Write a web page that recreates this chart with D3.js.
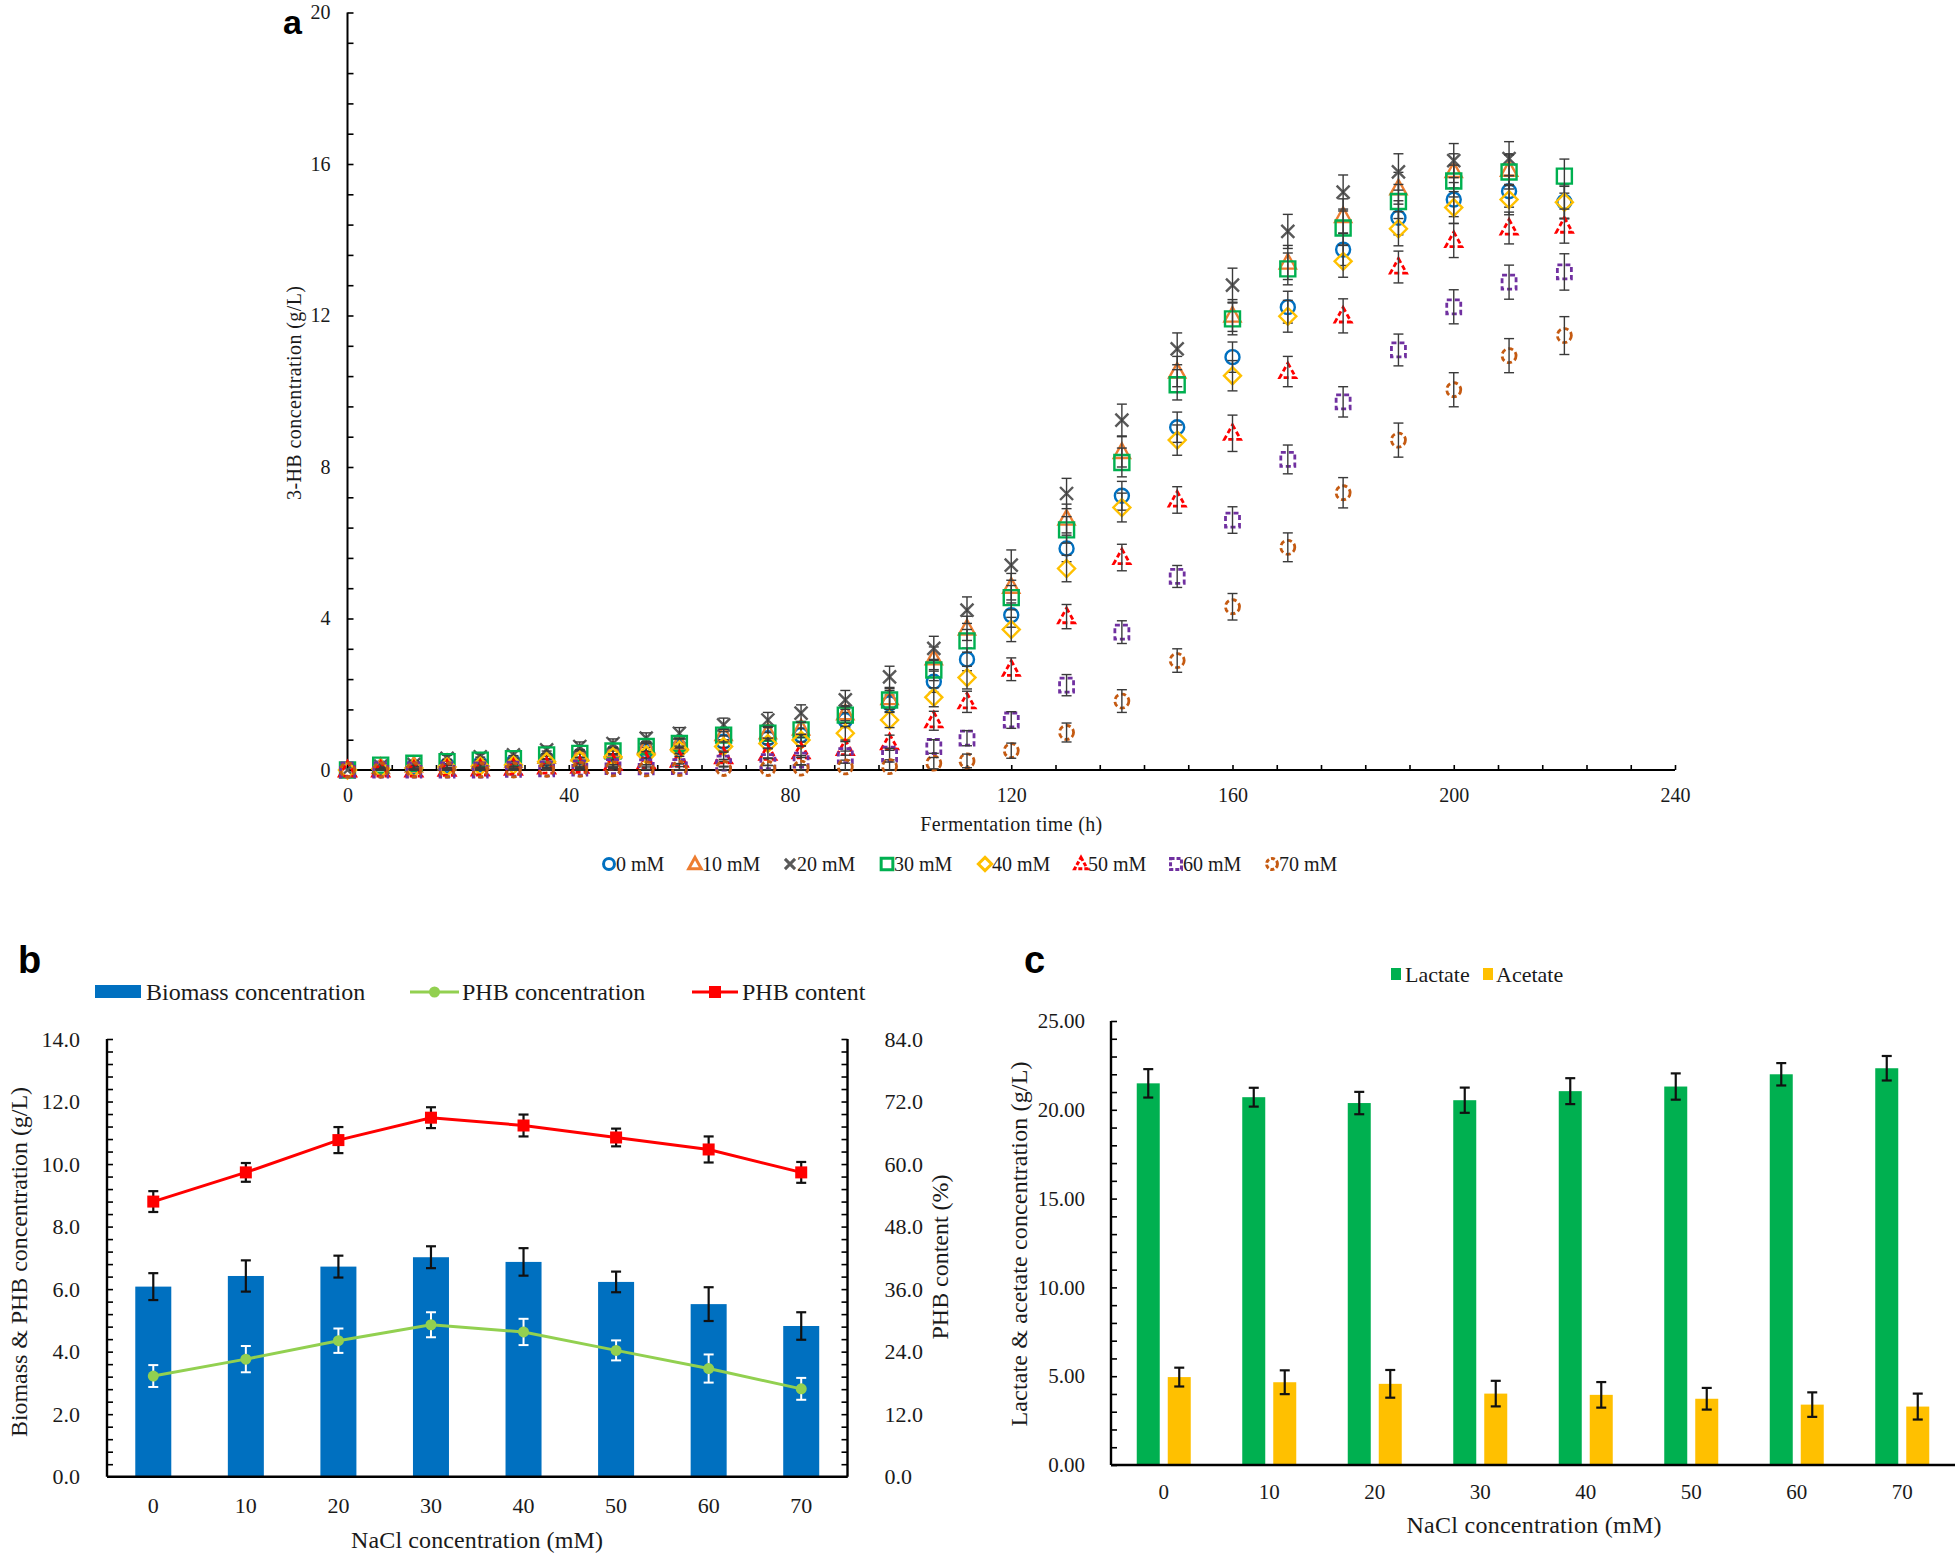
<!DOCTYPE html>
<html>
<head>
<meta charset="utf-8">
<title>3-HB production under NaCl</title>
<script src="https://cdn.jsdelivr.net/npm/d3@7"></script>
<style>
  body { margin: 0; background: #fff; }
  text { font-family: "Liberation Serif", "Times New Roman", serif; fill: #1a1a1a; }
  .tag { font-family: "Liberation Sans", Arial, sans-serif; font-weight: bold; fill: #000; }
</style>
</head>
<body>
<svg id="fig" width="1960" height="1558"></svg>
<script>
// ---- panel a : 3-HB concentration vs fermentation time
const hours = [0, 6, 12, 18, 24, 30, 36, 42, 48, 54, 60, 68, 76, 82, 90, 98, 106, 112, 120, 130, 140, 150, 160, 170, 180, 190, 200, 210, 220];
const saltLabels = ["0 mM", "10 mM", "20 mM", "30 mM", "40 mM", "50 mM", "60 mM", "70 mM"];

const hb0  = [0, 0.05, 0.08, 0.12, 0.15, 0.2, 0.28, 0.35, 0.4, 0.5, 0.6, 0.75, 0.84, 0.92, 1.32, 1.76, 2.33, 2.92, 4.09, 5.85, 7.24, 9.05, 10.9, 12.22, 13.74, 14.58, 15.06, 15.28, 15.0];
const hb10 = [0, 0.08, 0.12, 0.18, 0.2, 0.24, 0.35, 0.42, 0.5, 0.62, 0.72, 0.95, 1.0, 1.1, 1.5, 1.9, 2.95, 3.74, 4.84, 6.64, 8.4, 10.52, 12.0, 13.4, 14.63, 15.36, 15.82, 15.85];
const hb20 = [0, 0.1, 0.15, 0.31, 0.35, 0.4, 0.53, 0.62, 0.7, 0.84, 0.97, 1.19, 1.32, 1.5, 1.85, 2.46, 3.21, 4.22, 5.41, 7.3, 9.24, 11.12, 12.8, 14.22, 15.26, 15.79, 16.09, 16.14];
const hb30 = [0, 0.13, 0.18, 0.22, 0.26, 0.3, 0.4, 0.44, 0.5, 0.62, 0.7, 0.92, 0.97, 1.06, 1.45, 1.85, 2.64, 3.41, 4.55, 6.34, 8.12, 10.17, 11.91, 13.23, 14.31, 15.01, 15.55, 15.79, 15.68];
const hb40 = [0, 0.03, 0.05, 0.08, 0.1, 0.13, 0.22, 0.26, 0.35, 0.4, 0.53, 0.62, 0.7, 0.79, 0.97, 1.32, 1.92, 2.44, 3.71, 5.32, 6.93, 8.71, 10.41, 11.98, 13.43, 14.29, 14.85, 15.06, 14.99];
const hb50 = [0, 0, 0, 0.02, 0.03, 0.05, 0.08, 0.1, 0.18, 0.22, 0.26, 0.35, 0.44, 0.48, 0.57, 0.72, 1.3, 1.8, 2.66, 4.05, 5.61, 7.13, 8.89, 10.52, 11.99, 13.28, 13.98, 14.31, 14.36];
const hb60 = [0, 0, 0, 0, 0, 0.02, 0.03, 0.05, 0.09, 0.08, 0.09, 0.18, 0.22, 0.26, 0.38, 0.42, 0.62, 0.84, 1.32, 2.24, 3.64, 5.11, 6.6, 8.2, 9.72, 11.09, 12.23, 12.88, 13.15];
const hb70 = [0, 0, 0, 0, 0, 0, 0.02, 0.02, 0.03, 0.03, 0.04, 0.04, 0.04, 0.05, 0.08, 0.09, 0.18, 0.24, 0.51, 0.99, 1.82, 2.89, 4.31, 5.88, 7.32, 8.71, 10.04, 10.94, 11.47];

// standard deviations (error bars)
const sd0  = [0, 0.05, 0.05, 0.05, 0.06, 0.06, 0.08, 0.08, 0.1, 0.1, 0.12, 0.15, 0.15, 0.18, 0.2, 0.22, 0.28, 0.3, 0.32, 0.35, 0.38, 0.4, 0.4, 0.42, 0.42, 0.45, 0.45, 0.42, 0.45];
const sd10 = [0, 0.05, 0.06, 0.06, 0.07, 0.08, 0.08, 0.1, 0.1, 0.12, 0.12, 0.15, 0.18, 0.18, 0.2, 0.25, 0.3, 0.32, 0.35, 0.38, 0.4, 0.4, 0.42, 0.45, 0.45, 0.42, 0.45, 0.42];
const sd20 = [0, 0.06, 0.06, 0.08, 0.08, 0.1, 0.1, 0.12, 0.12, 0.14, 0.15, 0.18, 0.2, 0.22, 0.25, 0.28, 0.32, 0.35, 0.4, 0.4, 0.42, 0.42, 0.45, 0.45, 0.45, 0.48, 0.45, 0.45];
const sd30 = [0, 0.05, 0.06, 0.06, 0.08, 0.08, 0.1, 0.1, 0.1, 0.12, 0.12, 0.15, 0.18, 0.2, 0.22, 0.25, 0.28, 0.3, 0.32, 0.35, 0.38, 0.4, 0.42, 0.42, 0.45, 0.45, 0.42, 0.45, 0.45];
const sd40 = [0, 0.03, 0.04, 0.04, 0.05, 0.05, 0.06, 0.07, 0.08, 0.08, 0.1, 0.12, 0.14, 0.15, 0.18, 0.2, 0.25, 0.3, 0.32, 0.35, 0.38, 0.4, 0.4, 0.42, 0.42, 0.45, 0.42, 0.4, 0.42];
const sd50 = [0, 0.02, 0.02, 0.03, 0.04, 0.05, 0.05, 0.06, 0.08, 0.08, 0.1, 0.12, 0.14, 0.15, 0.18, 0.2, 0.25, 0.28, 0.3, 0.32, 0.35, 0.35, 0.48, 0.4, 0.45, 0.42, 0.45, 0.42, 0.45];
const sd60 = [0, 0.02, 0.02, 0.02, 0.03, 0.03, 0.04, 0.05, 0.05, 0.06, 0.08, 0.1, 0.1, 0.12, 0.12, 0.15, 0.18, 0.2, 0.22, 0.28, 0.3, 0.29, 0.35, 0.38, 0.4, 0.42, 0.45, 0.45, 0.48];
const sd70 = [0, 0.02, 0.02, 0.02, 0.02, 0.03, 0.03, 0.04, 0.04, 0.05, 0.05, 0.06, 0.08, 0.08, 0.1, 0.12, 0.15, 0.18, 0.2, 0.25, 0.3, 0.31, 0.35, 0.38, 0.4, 0.45, 0.45, 0.45, 0.5];

const hbTicks = [0, 4, 8, 12, 16, 20];
const hourTicks = [0, 40, 80, 120, 160, 200, 240];

// ---- panel b : biomass & PHB
const nacl = ["0", "10", "20", "30", "40", "50", "60", "70"];
const biomass = [6.08, 6.42, 6.72, 7.02, 6.87, 6.23, 5.52, 4.82];
const biomassSd = [0.43, 0.5, 0.35, 0.35, 0.44, 0.33, 0.54, 0.44];
const phbConc = [3.22, 3.76, 4.35, 4.86, 4.63, 4.04, 3.46, 2.81];
const phbConcSd = [0.35, 0.42, 0.39, 0.4, 0.42, 0.32, 0.45, 0.35];
const phbContent = [52.8, 58.4, 64.6, 68.9, 67.4, 65.1, 62.8, 58.4];
const phbContentSd = [2.0, 1.8, 2.5, 2.0, 2.1, 1.7, 2.5, 2.0];
const leftTicksB = [0, 2, 4, 6, 8, 10, 12, 14];
const rightTicksB = [0, 12, 24, 36, 48, 60, 72, 84];

// ---- panel c : lactate & acetate
const acids = ["Lactate", "Acetate"];
const lactate = [21.49, 20.71, 20.38, 20.54, 21.05, 21.31, 22.0, 22.34];
const lactateSd = [0.8, 0.53, 0.63, 0.71, 0.73, 0.74, 0.63, 0.69];
const acetate = [4.95, 4.66, 4.57, 4.02, 3.95, 3.73, 3.4, 3.29];
const acetateSd = [0.53, 0.67, 0.78, 0.72, 0.72, 0.61, 0.69, 0.73];
const ticksC = [0, 5, 10, 15, 20, 25];

const svg = d3.select("#fig");

// helper: error bar with caps
function errBar(g, x, y1, y2, cap, color, w) {
  g.append("line").attr("x1", x).attr("x2", x).attr("y1", y1).attr("y2", y2)
    .attr("stroke", color).attr("stroke-width", w);
  [y1, y2].forEach(y => g.append("line").attr("x1", x - cap).attr("x2", x + cap)
    .attr("y1", y).attr("y2", y).attr("stroke", color).attr("stroke-width", w));
}
function styleTicks(g, size) {
  g.select(".domain").remove();
  g.selectAll(".tick line").attr("stroke", "#000").attr("stroke-width", 1.6);
  g.selectAll("text").attr("font-size", size).attr("fill", "#1a1a1a");
}

// =================== panel a ===================
const xa = d3.scaleLinear().domain([0, 240]).range([347.5, 1675]);
const ya = d3.scaleLinear().domain([0, 20]).range([770, 12.5]);
const ga = svg.append("g");

ga.append("g").attr("transform", "translate(347.5,0)")
  .call(d3.axisLeft(ya).tickValues(d3.range(26).map(i => i * 0.8)).tickSize(-6).tickFormat(""))
  .call(g => styleTicks(g, 20));
ga.append("g").attr("transform", "translate(347.5,0)")
  .call(d3.axisLeft(ya).tickValues(hbTicks).tickSize(0).tickPadding(17).tickFormat(d3.format("d")))
  .call(g => styleTicks(g, 20));
ga.append("g").attr("transform", "translate(0,770)")
  .call(d3.axisBottom(xa).tickValues(d3.range(31).map(i => i * 8)).tickSize(-5).tickFormat(""))
  .call(g => styleTicks(g, 20));
ga.append("g").attr("transform", "translate(0,770)")
  .call(d3.axisBottom(xa).tickValues(hourTicks).tickSize(0).tickPadding(18))
  .call(g => styleTicks(g, 20));
ga.append("line").attr("x1", 347.5).attr("x2", 347.5).attr("y1", ya(20)).attr("y2", 770)
  .attr("stroke", "#000").attr("stroke-width", 2);
ga.append("line").attr("x1", 347.5).attr("x2", xa(240)).attr("y1", 770).attr("y2", 770)
  .attr("stroke", "#000").attr("stroke-width", 2);

const shapePath = {
  circle: r => `M${r},0A${r},${r} 0 1,1 ${-r},0A${r},${r} 0 1,1 ${r},0Z`,
  triangle: r => `M0,${-r}L${r * 0.95},${r * 0.72}L${-r * 0.95},${r * 0.72}Z`,
  cross: r => `M${-r},${-r}L${r},${r}M${-r},${r}L${r},${-r}`,
  square: r => `M${-r},${-r}H${r}V${r}H${-r}Z`,
  diamond: r => `M0,${-r}L${r},0L0,${r}L${-r},0Z`
};
const looks = [
  { shape: "circle", r: 7, color: "#0070C0" },
  { shape: "triangle", r: 8.5, color: "#ED7D31" },
  { shape: "cross", r: 6.5, color: "#595959" },
  { shape: "square", r: 7.5, color: "#00B050" },
  { shape: "diamond", r: 8.5, color: "#FFC000" },
  { shape: "triangle", r: 8.5, color: "#FF0000", dash: "5,3" },
  { shape: "square", r: 7, color: "#7030A0", dash: "5,3" },
  { shape: "circle", r: 7, color: "#C55A11", dash: "5,3" }
];
const hbSeries = [hb0, hb10, hb20, hb30, hb40, hb50, hb60, hb70];
const hbSd = [sd0, sd10, sd20, sd30, sd40, sd50, sd60, sd70];

hbSeries.forEach((vals, s) => {
  const lk = looks[s];
  const gs = ga.append("g");
  gs.selectAll("path").data(vals).join("path")
    .attr("transform", (v, i) => `translate(${xa(hours[i])},${ya(v)})`)
    .attr("d", shapePath[lk.shape](lk.r))
    .attr("fill", "none").attr("stroke", lk.color).attr("stroke-width", lk.dash ? 2.8 : 2.4)
    .attr("stroke-dasharray", lk.dash || null);
  vals.forEach((v, i) => {
    const e = hbSd[s][i];
    if (e > 0) errBar(gs, xa(hours[i]), ya(v + e), ya(Math.max(0, v - e)), 5, "#3a3a3a", 1.4);
  });
});

ga.append("text").attr("x", xa(120)).attr("y", 831).attr("text-anchor", "middle")
  .attr("font-size", 20).attr("textLength", 182).text("Fermentation time (h)");
ga.append("text").attr("transform", "translate(294,393) rotate(-90)").attr("text-anchor", "middle")
  .attr("dy", "0.35em").attr("font-size", 20).attr("textLength", 214).text("3-HB concentration (g/L)");
ga.append("text").attr("class", "tag").attr("x", 283).attr("y", 34).attr("font-size", 34).text("a");

const legA = [609, 695, 790, 887, 985, 1081, 1176, 1272];
saltLabels.forEach((lab, s) => {
  const lk = looks[s];
  ga.append("path").attr("transform", `translate(${legA[s]},864)`)
    .attr("d", shapePath[lk.shape](lk.r * 0.78))
    .attr("fill", "none").attr("stroke", lk.color).attr("stroke-width", 3)
    .attr("stroke-dasharray", lk.dash ? "4,2" : null);
  ga.append("text").attr("x", legA[s] + 7).attr("y", 871).attr("font-size", 20).text(lab);
});

// =================== panel b ===================
const xb = d3.scaleBand().domain(nacl).range([107, 847.5]).paddingInner(0.611).paddingOuter(0.3055);
const ybL = d3.scaleLinear().domain([0, 14]).range([1476.7, 1039]);
const ybR = d3.scaleLinear().domain([0, 84]).range([1476.7, 1039]);
const gb = svg.append("g");
const cb = d => xb(d) + xb.bandwidth() / 2;

gb.append("g").attr("transform", "translate(107,0)")
  .call(d3.axisLeft(ybL).tickValues(d3.range(36).map(i => i * 0.4)).tickSize(-6).tickFormat(""))
  .call(g => styleTicks(g, 22));
gb.append("g").attr("transform", "translate(107,0)")
  .call(d3.axisLeft(ybL).tickValues(leftTicksB).tickSize(0).tickPadding(27).tickFormat(d3.format(".1f")))
  .call(g => styleTicks(g, 22));
gb.append("g").attr("transform", "translate(847.5,0)")
  .call(d3.axisRight(ybR).tickValues(d3.range(36).map(i => i * 2.4)).tickSize(-6).tickFormat(""))
  .call(g => styleTicks(g, 22));
gb.append("g").attr("transform", "translate(847.5,0)")
  .call(d3.axisRight(ybR).tickValues(rightTicksB).tickSize(0).tickPadding(37).tickFormat(d3.format(".1f")))
  .call(g => styleTicks(g, 22));
gb.append("g").attr("transform", "translate(0,1476.7)")
  .call(d3.axisBottom(xb).tickSize(0).tickPadding(21))
  .call(g => styleTicks(g, 22));

gb.selectAll("rect.bio").data(biomass).join("rect").attr("class", "bio")
  .attr("x", (v, i) => xb(nacl[i])).attr("width", xb.bandwidth())
  .attr("y", v => ybL(v)).attr("height", v => ybL(0) - ybL(v)).attr("fill", "#0070C0");
biomass.forEach((v, i) => errBar(gb, cb(nacl[i]), ybL(v + biomassSd[i]), ybL(v - biomassSd[i]), 5, "#111", 2.2));

[[107, 847.5, 1476.7, 1476.7], [107, 107, 1039, 1476.7], [847.5, 847.5, 1039, 1476.7]].forEach(l =>
  gb.append("line").attr("x1", l[0]).attr("x2", l[1]).attr("y1", l[2]).attr("y2", l[3])
    .attr("stroke", "#000").attr("stroke-width", 2.4));

gb.append("path").datum(phbConc)
  .attr("d", d3.line().x((v, i) => cb(nacl[i])).y(v => ybL(v)))
  .attr("fill", "none").attr("stroke", "#92D050").attr("stroke-width", 3);
phbConc.forEach((v, i) => errBar(gb, cb(nacl[i]), ybL(v + phbConcSd[i]), ybL(v - phbConcSd[i]), 5, "#ffffff", 2));
gb.selectAll("circle.phb").data(phbConc).join("circle").attr("class", "phb")
  .attr("cx", (v, i) => cb(nacl[i])).attr("cy", v => ybL(v)).attr("r", 5.5).attr("fill", "#92D050");

gb.append("path").datum(phbContent)
  .attr("d", d3.line().x((v, i) => cb(nacl[i])).y(v => ybR(v)))
  .attr("fill", "none").attr("stroke", "#FF0000").attr("stroke-width", 3);
phbContent.forEach((v, i) => errBar(gb, cb(nacl[i]), ybR(v + phbContentSd[i]), ybR(v - phbContentSd[i]), 5, "#111", 2.2));
gb.selectAll("rect.cnt").data(phbContent).join("rect").attr("class", "cnt")
  .attr("x", (v, i) => cb(nacl[i]) - 6).attr("y", v => ybR(v) - 6)
  .attr("width", 12).attr("height", 12).attr("fill", "#FF0000");

// legend b
gb.append("rect").attr("x", 95).attr("y", 985).attr("width", 46).attr("height", 13).attr("fill", "#0070C0");
gb.append("text").attr("x", 146).attr("y", 1000).attr("font-size", 24).text("Biomass concentration");
gb.append("line").attr("x1", 410).attr("x2", 459).attr("y1", 992).attr("y2", 992).attr("stroke", "#92D050").attr("stroke-width", 3);
gb.append("circle").attr("cx", 434.5).attr("cy", 992).attr("r", 5.5).attr("fill", "#92D050");
gb.append("text").attr("x", 462).attr("y", 1000).attr("font-size", 24).text("PHB concentration");
gb.append("line").attr("x1", 692).attr("x2", 738).attr("y1", 992).attr("y2", 992).attr("stroke", "#FF0000").attr("stroke-width", 3);
gb.append("rect").attr("x", 709).attr("y", 986).attr("width", 12).attr("height", 12).attr("fill", "#FF0000");
gb.append("text").attr("x", 742).attr("y", 1000).attr("font-size", 24).text("PHB content");

gb.append("text").attr("x", 477).attr("y", 1548).attr("text-anchor", "middle")
  .attr("font-size", 24).attr("textLength", 252).text("NaCl concentration (mM)");
gb.append("text").attr("transform", "translate(19,1262) rotate(-90)").attr("text-anchor", "middle")
  .attr("dy", "0.35em").attr("font-size", 24).attr("textLength", 350).text("Biomass & PHB concentration (g/L)");
gb.append("text").attr("transform", "translate(940,1257) rotate(-90)").attr("text-anchor", "middle")
  .attr("dy", "0.35em").attr("font-size", 24).attr("textLength", 165).text("PHB content (%)");
gb.append("text").attr("class", "tag").attr("x", 18).attr("y", 973).attr("font-size", 38).text("b");

// =================== panel c ===================
const xc = d3.scaleBand().domain(nacl).range([1111, 1955]);
const sub = d3.scaleBand().domain(acids).range([xc.bandwidth() / 2 - 27, xc.bandwidth() / 2 + 27]).paddingInner(0.258);
const yc = d3.scaleLinear().domain([0, 25]).range([1465, 1021]);
const gc = svg.append("g");

gc.append("g").attr("transform", "translate(1111,0)")
  .call(d3.axisLeft(yc).tickValues(d3.range(26)).tickSize(-6).tickFormat(""))
  .call(g => styleTicks(g, 21));
gc.append("g").attr("transform", "translate(1111,0)")
  .call(d3.axisLeft(yc).tickValues(ticksC).tickSize(0).tickPadding(26).tickFormat(d3.format(".2f")))
  .call(g => styleTicks(g, 21));
gc.append("g").attr("transform", "translate(0,1465)")
  .call(d3.axisBottom(xc).tickSize(0).tickPadding(19))
  .call(g => styleTicks(g, 21));

const acidVals = [lactate, acetate];
const acidSd = [lactateSd, acetateSd];
const acidColor = ["#00B050", "#FFC000"];
acids.forEach((a, k) => {
  gc.selectAll("rect.a" + k).data(acidVals[k]).join("rect").attr("class", "a" + k)
    .attr("x", (v, i) => xc(nacl[i]) + sub(a)).attr("width", sub.bandwidth())
    .attr("y", v => yc(v)).attr("height", v => yc(0) - yc(v)).attr("fill", acidColor[k]);
  acidVals[k].forEach((v, i) => errBar(gc, xc(nacl[i]) + sub(a) + sub.bandwidth() / 2,
    yc(v + acidSd[k][i]), yc(v - acidSd[k][i]), 5, "#111", 2.2));
});
gc.append("line").attr("x1", 1111).attr("x2", 1955).attr("y1", 1465).attr("y2", 1465).attr("stroke", "#000").attr("stroke-width", 2.4);
gc.append("line").attr("x1", 1111).attr("x2", 1111).attr("y1", 1021).attr("y2", 1465).attr("stroke", "#000").attr("stroke-width", 2.4);

// legend c
gc.append("rect").attr("x", 1391).attr("y", 968).attr("width", 10).attr("height", 12).attr("fill", "#00B050");
gc.append("text").attr("x", 1405).attr("y", 982).attr("font-size", 22).text("Lactate");
gc.append("rect").attr("x", 1483).attr("y", 968).attr("width", 10).attr("height", 12).attr("fill", "#FFC000");
gc.append("text").attr("x", 1496).attr("y", 982).attr("font-size", 22).text("Acetate");

gc.append("text").attr("x", 1534).attr("y", 1533).attr("text-anchor", "middle")
  .attr("font-size", 24).attr("textLength", 255).text("NaCl concentration (mM)");
gc.append("text").attr("transform", "translate(1019,1244) rotate(-90)").attr("text-anchor", "middle")
  .attr("dy", "0.35em").attr("font-size", 24).attr("textLength", 365).text("Lactate & acetate concentration (g/L)");
gc.append("text").attr("class", "tag").attr("x", 1024).attr("y", 973).attr("font-size", 38).text("c");
</script>
</body>
</html>
